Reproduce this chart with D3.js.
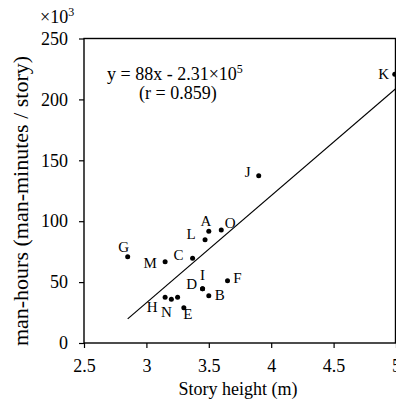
<!DOCTYPE html>
<html>
<head>
<meta charset="utf-8">
<script src="https://cdn.jsdelivr.net/npm/d3@7"></script>
<style>
  html, body { margin: 0; padding: 0; background: #fff; }
  svg { display: block; font-family: "Liberation Serif", "Times New Roman", serif; }
</style>
</head>
<body>
<svg id="chart" width="396" height="401"></svg>
<script>
// story height (m) vs man-hours per story (x10^3)
var names   = ["A", "B", "C", "D", "E", "F", "G", "H", "I", "J", "K", "L", "M", "N", "O", ""];
var heights = [3.50, 3.50, 3.37, 3.45, 3.30, 3.65, 2.85, 3.15, 3.45, 3.90, 4.99, 3.47, 3.15, 3.20, 3.60, 3.25];
var hours   = [91.7, 38.8, 69.5, 44.6, 29.0, 51.1, 70.9, 37.5, 44.6, 137.4, 220.6, 84.8, 66.7, 35.9, 92.8, 37.5];
var xTicks = [2.5, 3, 3.5, 4, 4.5, 5];
var yTicks = [0, 50, 100, 150, 200, 250];
var slope = 88, intercept = -231, fitFrom = 2.85, fitTo = 5;

// where each letter sits relative to its dot
var nudge = {
  A: [-3, -11], B: [11, -1], C: [-14, -4], D: [-11, -5], E: [4, 6], F: [10, -3],
  G: [-4, -10], H: [-13, 9], I: [0, -14], J: [-11, -4], K: [-11, -1], L: [-14, -6],
  M: [-15, 1], N: [-5, 12], O: [9, -7]
};

var svg = d3.select("#chart"),
    padL = 84, padR = 396, padT = 38.5, padB = 343;

var x = d3.scaleLinear().domain([2.5, 5]).range([padL, padR]),
    y = d3.scaleLinear().domain([0, 250]).range([padB, padT]);

var xAxis = svg.append("g").attr("transform", "translate(0," + padB + ")")
  .call(d3.axisBottom(x).tickValues(xTicks).tickSize(5).tickPadding(11).tickFormat(d3.format("")));
var yAxis = svg.append("g").attr("transform", "translate(" + padL + ",0)")
  .call(d3.axisLeft(y).tickValues(yTicks).tickSize(5).tickPadding(11));
[xAxis, yAxis].forEach(function (a) {
  a.attr("font-family", null).attr("font-size", 18);
  a.select(".domain").remove();
  a.selectAll("line").attr("stroke", "#000").attr("stroke-width", 1.2);
  a.selectAll("text").attr("fill", "#000");
});

svg.append("rect").attr("x", padL).attr("y", padT)
  .attr("width", padR - padL - 0.5).attr("height", padB - padT)
  .attr("fill", "none").attr("stroke", "#000").attr("stroke-width", 1.4);

// regression line
svg.append("line")
  .attr("x1", x(fitFrom)).attr("y1", y(slope * fitFrom + intercept))
  .attr("x2", x(fitTo)).attr("y2", y(slope * fitTo + intercept))
  .attr("stroke", "#000").attr("stroke-width", 1.2);

var pts = names.map(function (n, i) { return { name: n, h: heights[i], v: hours[i] }; });

svg.append("g").selectAll("circle").data(pts).enter().append("circle")
  .attr("cx", function (d) { return x(d.h); })
  .attr("cy", function (d) { return y(d.v); })
  .attr("r", 2.5).attr("fill", "#000");

svg.append("g").selectAll("text").data(pts.filter(function (d) { return d.name; })).enter().append("text")
  .attr("x", function (d) { return x(d.h) + nudge[d.name][0]; })
  .attr("y", function (d) { return y(d.v) + nudge[d.name][1]; })
  .attr("dy", "0.35em").attr("text-anchor", "middle").attr("font-size", 15)
  .text(function (d) { return d.name; });

// equation
var eq = svg.append("text").attr("x", 107).attr("y", 80).attr("font-size", 18);
eq.append("tspan").text("y = 88x - 2.31\u00d710");
eq.append("tspan").attr("dy", -7).attr("font-size", 12).text("5");
svg.append("text").attr("x", 139).attr("y", 99).attr("font-size", 18).text("(r = 0.859)");

// multiplier
var mult = svg.append("text").attr("x", 40).attr("y", 23).attr("font-size", 18);
mult.append("tspan").text("\u00d710");
mult.append("tspan").attr("dy", -7).attr("font-size", 12).text("3");

svg.append("text").attr("x", 238).attr("y", 395).attr("text-anchor", "middle")
  .attr("font-size", 18).text("Story height (m)");
svg.append("text").attr("transform", "translate(27.5,201) rotate(-90)")
  .attr("text-anchor", "middle").attr("font-size", 22)
  .text("man-hours (man-minutes / story)");
</script>
</body>
</html>
